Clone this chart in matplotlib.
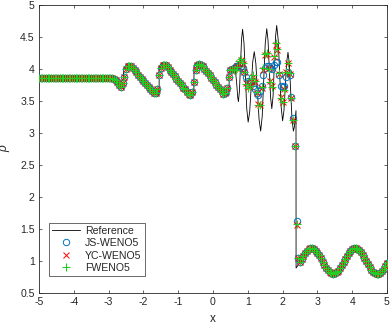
import numpy as np
import matplotlib
matplotlib.use("Agg")
import matplotlib.pyplot as plt
from matplotlib.ticker import FuncFormatter

plt.rcParams['font.family'] = ['Liberation Sans', 'DejaVu Sans']
plt.rcParams['axes.unicode_minus'] = False

# ---------------- data ----------------
# grid of the numerical solutions: x = -5.00 ... 5.00, step 0.05 (201 points)
x_grid = np.linspace(-5.0, 5.0, 201)

# common (smooth) part, x = -5.00 ... 0.55
rho_left = [3.857, 3.857, 3.857, 3.857, 3.857, 3.857, 3.857, 3.857, 3.857, 3.857,
            3.857, 3.857, 3.857, 3.857, 3.857, 3.857, 3.857, 3.857, 3.857, 3.857,
            3.857, 3.857, 3.857, 3.857, 3.857, 3.857, 3.857, 3.857, 3.857, 3.857,
            3.857, 3.857, 3.857, 3.857, 3.857, 3.857, 3.857, 3.857, 3.857, 3.857,
            3.857, 3.857, 3.857,
            3.85, 3.83, 3.80, 3.75, 3.72, 3.78, 3.88, 4.00, 4.04, 4.05,
            4.04, 4.01, 3.98, 3.95, 3.91, 3.88, 3.85, 3.82, 3.78, 3.75,
            3.72, 3.69, 3.66, 3.63, 3.62, 3.68, 3.90, 4.02, 4.06, 4.07,
            4.06, 4.03, 3.99, 3.96, 3.92, 3.89, 3.85, 3.82, 3.78, 3.75,
            3.71, 3.68, 3.64, 3.61, 3.60, 3.64, 3.80, 3.99, 4.06, 4.08,
            4.07, 4.04, 4.00, 3.97, 3.93, 3.90, 3.86, 3.83, 3.79, 3.75,
            3.72, 3.68, 3.65, 3.61, 3.62, 3.70, 3.88, 3.98, 4.00]

# oscillatory part, x = 0.60 ... 2.45
rho_js_mid = [4.02, 4.04, 4.05, 4.06, 4.05, 4.02, 3.95, 3.87, 3.82, 3.80,
              3.78, 3.74, 3.68, 3.62, 3.60, 3.65, 3.74, 3.90, 4.01, 4.04,
              4.05, 4.02, 4.00, 4.07, 4.11, 4.11, 3.91, 3.73, 3.72, 3.74,
              3.88, 3.96, 3.90, 3.56, 3.24, 2.79, 1.63, 1.05]
rho_yc_mid = [4.00, 4.02, 4.05, 4.10, 4.14, 4.08, 3.95, 3.78, 3.72, 3.74,
              3.82, 3.88, 3.80, 3.62, 3.46, 3.44, 3.70, 3.98, 4.22, 4.23,
              4.01, 3.82, 3.74, 4.18, 4.38, 4.30, 3.92, 3.56, 3.49, 3.68,
              3.95, 4.09, 3.92, 3.55, 3.20, 2.79, 1.56, 1.04]
rho_fw_mid = [3.98, 3.99, 4.03, 4.12, 4.16, 4.10, 3.96, 3.76, 3.70, 3.73,
              3.84, 3.90, 3.82, 3.64, 3.44, 3.43, 3.72, 4.01, 4.24, 4.25,
              4.00, 3.80, 3.72, 4.20, 4.40, 4.31, 3.93, 3.55, 3.48, 3.67,
              3.96, 4.10, 3.93, 3.55, 3.21, 2.79, 1.58, 1.04]

# common (smooth) part, x = 2.50 ... 5.00
rho_right = [0.987, 1.037, 1.084, 1.126, 1.161, 1.185, 1.198, 1.199, 1.187, 1.164,
             1.130, 1.088, 1.041, 0.992, 0.942, 0.897, 0.858, 0.827, 0.808, 0.800,
             0.805, 0.822, 0.850, 0.887, 0.931, 0.980, 1.030, 1.078, 1.120, 1.157,
             1.183, 1.197, 1.199, 1.189, 1.167, 1.135, 1.094, 1.048, 0.998, 0.949,
             0.903, 0.862, 0.830, 0.809, 0.800, 0.804, 0.819, 0.845, 0.882, 0.925,
             0.974]
x_right = [2.50, 2.55, 2.60, 2.65, 2.70, 2.75, 2.80, 2.85, 2.90, 2.95,
           3.00, 3.05, 3.10, 3.15, 3.20, 3.25, 3.30, 3.35, 3.40, 3.45,
           3.50, 3.55, 3.60, 3.65, 3.70, 3.75, 3.80, 3.85, 3.90, 3.95,
           4.00, 4.05, 4.10, 4.15, 4.20, 4.25, 4.30, 4.35, 4.40, 4.45,
           4.50, 4.55, 4.60, 4.65, 4.70, 4.75, 4.80, 4.85, 4.90, 4.95,
           5.00]

rho_js = rho_left + rho_js_mid + rho_right
rho_yc = rho_left + rho_yc_mid + rho_right
rho_fw = rho_left + rho_fw_mid + rho_right

# reference (fine grid) solution
ref_x_left = [-5.00, -2.90, -2.85, -2.80, -2.75, -2.70, -2.65, -2.60, -2.575, -2.57,
              -2.50, -2.45, -2.40, -1.60, -1.55, -1.545, -1.50, -1.45, -1.40, -0.60,
              -0.55, -0.545, -0.50, -0.45, -0.40, 0.35, 0.46, 0.465, 0.50, 0.55,
              0.60, 0.62]
ref_y_left = [3.857, 3.857, 3.852, 3.84, 3.81, 3.77, 3.73, 3.70, 3.69, 4.00,
              4.04, 4.05, 4.05, 3.62, 3.60, 4.04, 4.07, 4.08, 4.08, 3.61,
              3.59, 4.05, 4.08, 4.09, 4.09, 3.61, 3.59, 3.96, 4.00, 4.02,
              4.02, 4.02]
ref_x_mid = [0.65, 0.68, 0.71, 0.73, 0.76, 0.79, 0.82, 0.85, 0.89, 0.93,
             0.97, 1.01, 1.054, 1.098, 1.141, 1.185, 1.231, 1.278, 1.324, 1.37,
             1.414, 1.458, 1.501, 1.545, 1.581, 1.618, 1.654, 1.69, 1.725, 1.76,
             1.795, 1.83, 1.873, 1.915, 1.958, 2.00, 2.039, 2.078, 2.116, 2.155,
             2.194, 2.233, 2.271, 2.31, 2.34, 2.37, 2.385, 2.387, 2.45]
ref_y_mid = [3.95, 3.78, 3.56, 3.49, 3.66, 4.06, 4.46, 4.62, 4.41, 3.90,
             3.38, 3.17, 3.33, 3.72, 4.11, 4.27, 4.09, 3.65, 3.21, 3.03,
             3.26, 3.83, 4.40, 4.63, 4.45, 4.01, 3.56, 3.38, 3.57, 4.03,
             4.49, 4.68, 4.46, 3.94, 3.41, 3.19, 3.35, 3.73, 4.10, 4.26,
             4.08, 3.65, 3.21, 3.03, 3.10, 3.26, 3.35, 0.89, 0.94]
ref_x = ref_x_left + ref_x_mid + x_right
ref_y = ref_y_left + ref_y_mid + rho_right

labels = ['Reference', 'JS-WENO5', 'YC-WENO5', 'FWENO5']
x_ticks = [-5, -4, -3, -2, -1, 0, 1, 2, 3, 4, 5]
y_ticks = [0.5, 1, 1.5, 2, 2.5, 3, 3.5, 4, 4.5, 5]

# ---------------- plot ----------------
axc = '#262626'
fig = plt.figure(figsize=(3.9, 3.28), dpi=100)
ax = fig.add_axes([39/390, 35/328, (387-39)/390, (293-5)/328])

ax.plot(ref_x, ref_y, color='k', lw=0.6, label=labels[0], zorder=2)
ax.plot(x_grid, rho_js, ls='none', marker='o', ms=4.6, mfc='none', mec='#0072BD',
        mew=0.7, label=labels[1], zorder=3)
ax.plot(x_grid, rho_yc, ls='none', marker='x', ms=4.4, mec='#FF0000',
        mew=0.7, label=labels[2], zorder=4)
ax.plot(x_grid, rho_fw, ls='none', marker='+', ms=5.2, mec='#22CC22',
        mew=0.8, label=labels[3], zorder=5)

ax.set_xlim(-5, 5)
ax.set_ylim(0.5, 5)
ax.set_xticks(x_ticks)
ax.set_yticks(y_ticks)
ax.yaxis.set_major_formatter(FuncFormatter(lambda v, p: '%g' % v))
ax.xaxis.set_major_formatter(FuncFormatter(lambda v, p: '%g' % v))
ax.tick_params(direction='in', length=2.5, width=0.5, colors=axc, labelsize=7.6,
               top=True, right=True, pad=3)
for s in ax.spines.values():
    s.set_color(axc)
    s.set_linewidth(0.6)

ax.set_xlabel('x', fontsize=8.5, color=axc, labelpad=4)
ax.set_ylabel('ρ', fontsize=8.5, color=axc, style='italic', labelpad=7)

leg = ax.legend(loc='lower left', bbox_to_anchor=(10/348, 17/288), borderaxespad=0,
                fontsize=7.6, frameon=True, fancybox=False, edgecolor=axc,
                handlelength=2.6, handletextpad=0.5, labelspacing=0.22,
                borderpad=0.3)
leg.get_frame().set_linewidth(0.6)
for t in leg.get_texts():
    t.set_color(axc)

fig.savefig('out.png', dpi=100)
